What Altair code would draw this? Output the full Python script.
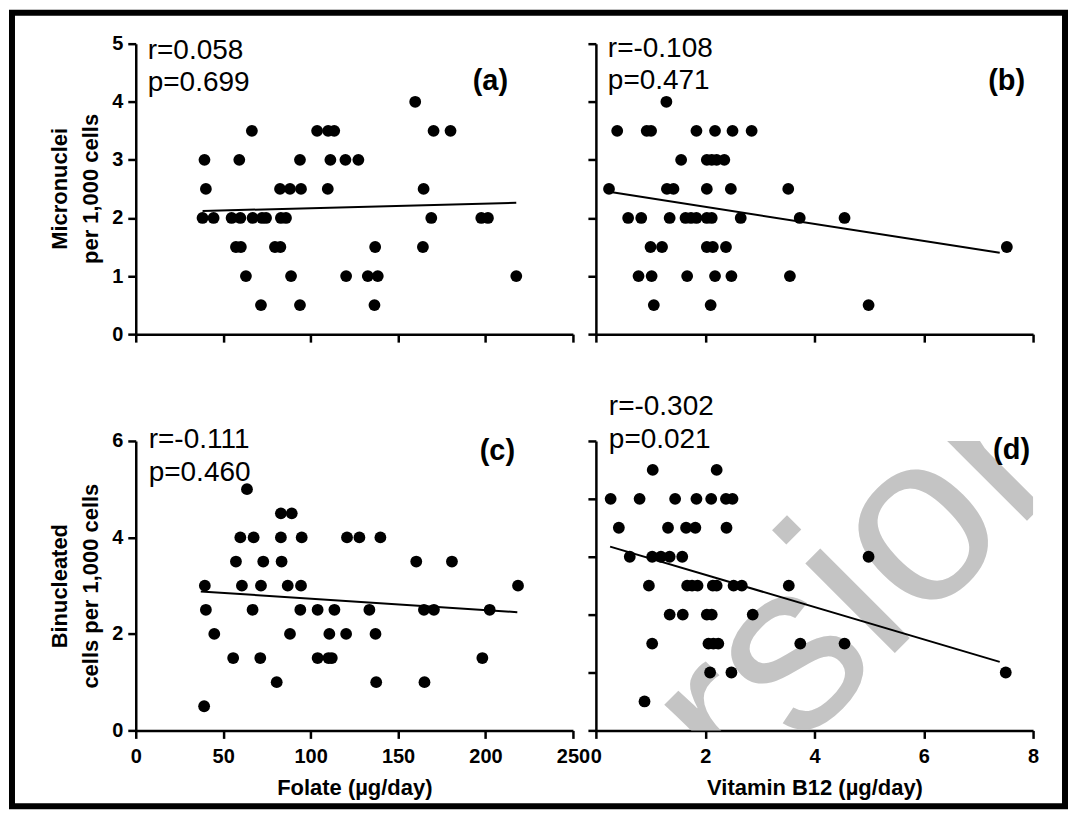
import altair as alt
import pandas as pd

# ---------------- data ----------------
# (a) Folate (ug/day) vs micronuclei per 1,000 cells
a_folate = [159.8,
            66.4, 103.7, 110.0, 113.5, 170.3, 180.0,
            39.3, 59.2, 93.9, 111.3, 119.9, 127.3,
            40.1, 82.5, 88.2, 94.5, 109.8, 164.6,
            38.2, 44.5, 54.8, 59.8, 66.8, 72.2, 74.5, 83.0, 85.9, 169.0, 197.6, 201.4,
            57.3, 60.1, 79.6, 82.7, 136.9, 164.2,
            63.0, 88.8, 120.3, 132.7, 138.4, 217.6,
            71.6, 93.9, 136.5]
a_mn = [4.0,
        3.5, 3.5, 3.5, 3.5, 3.5, 3.5,
        3.0, 3.0, 3.0, 3.0, 3.0, 3.0,
        2.5, 2.5, 2.5, 2.5, 2.5, 2.5,
        2.0, 2.0, 2.0, 2.0, 2.0, 2.0, 2.0, 2.0, 2.0, 2.0, 2.0, 2.0,
        1.5, 1.5, 1.5, 1.5, 1.5, 1.5,
        1.0, 1.0, 1.0, 1.0, 1.0, 1.0,
        0.5, 0.5, 0.5]

# (b) Vitamin B12 (ug/day) vs micronuclei per 1,000 cells
b_b12 = [1.29,
         0.39, 0.93, 1.01, 1.84, 2.18, 2.50, 2.85,
         1.56, 2.03, 2.12, 2.21, 2.35,
         0.24, 1.30, 1.42, 2.03, 2.47, 3.52,
         0.59, 0.83, 1.35, 1.64, 1.74, 1.84, 2.03, 2.12, 2.65, 3.73, 4.55,
         1.00, 1.21, 2.03, 2.14, 2.38, 7.52,
         0.78, 1.02, 1.67, 2.18, 2.48, 3.55,
         1.06, 2.10, 4.99]
b_mn = [4.0,
        3.5, 3.5, 3.5, 3.5, 3.5, 3.5, 3.5,
        3.0, 3.0, 3.0, 3.0, 3.0,
        2.5, 2.5, 2.5, 2.5, 2.5, 2.5,
        2.0, 2.0, 2.0, 2.0, 2.0, 2.0, 2.0, 2.0, 2.0, 2.0, 2.0,
        1.5, 1.5, 1.5, 1.5, 1.5, 1.5,
        1.0, 1.0, 1.0, 1.0, 1.0, 1.0,
        0.5, 0.5, 0.5]

# (c) Folate (ug/day) vs binucleated cells per 1,000 cells
c_folate = [63.6,
            83.0, 89.2,
            59.8, 67.4, 83.0, 94.9, 120.8, 127.9, 139.9,
            57.3, 72.9, 83.4, 160.4, 180.8,
            39.5, 60.7, 71.6, 86.9, 94.5, 218.6,
            40.1, 66.8, 94.1, 104.0, 113.6, 133.6, 164.8, 170.5, 202.4,
            44.9, 88.2, 110.7, 120.3, 137.1,
            55.7, 71.2, 104.0, 110.2, 112.1, 198.2,
            80.6, 137.5, 165.1,
            39.1]
c_bn = [5.0,
        4.5, 4.5,
        4.0, 4.0, 4.0, 4.0, 4.0, 4.0, 4.0,
        3.5, 3.5, 3.5, 3.5, 3.5,
        3.0, 3.0, 3.0, 3.0, 3.0, 3.0,
        2.5, 2.5, 2.5, 2.5, 2.5, 2.5, 2.5, 2.5, 2.5,
        2.0, 2.0, 2.0, 2.0, 2.0,
        1.5, 1.5, 1.5, 1.5, 1.5, 1.5,
        1.0, 1.0, 1.0,
        0.5]

# (d) Vitamin B12 (ug/day) vs binucleated cells per 1,000 cells
d_b12 = [1.04, 2.21,
         0.27, 0.80, 1.45, 1.84, 2.11, 2.38, 2.50,
         0.42, 1.32, 1.65, 1.82, 2.39,
         0.62, 1.03, 1.19, 1.35, 1.58, 4.99,
         0.97, 1.67, 1.76, 1.86, 2.14, 2.21, 2.52, 2.67, 3.53,
         1.35, 1.59, 2.03, 2.12, 2.87,
         1.03, 2.06, 2.15, 2.24, 3.74, 4.55,
         2.09, 2.48, 7.50,
         0.89]
d_bn = [5.4, 5.4,
        4.8, 4.8, 4.8, 4.8, 4.8, 4.8, 4.8,
        4.2, 4.2, 4.2, 4.2, 4.2,
        3.6, 3.6, 3.6, 3.6, 3.6, 3.6,
        3.0, 3.0, 3.0, 3.0, 3.0, 3.0, 3.0, 3.0, 3.0,
        2.4, 2.4, 2.4, 2.4, 2.4,
        1.8, 1.8, 1.8, 1.8, 1.8, 1.8,
        1.2, 1.2, 1.2,
        0.6]

# fitted regression lines (end points)
fit_a_x = [38.2, 217.6]
fit_a_y = [2.12, 2.26]
fit_b_x = [0.24, 7.39]
fit_b_y = [2.45, 1.40]
fit_c_x = [37.2, 218.2]
fit_c_y = [2.88, 2.45]
fit_d_x = [0.26, 7.39]
fit_d_y = [3.81, 1.42]

stat_a = ["r=0.058", "p=0.699"]
stat_b = ["r=-0.108", "p=0.471"]
stat_c = ["r=-0.111", "p=0.460"]
stat_d = ["r=-0.302", "p=0.021"]
tags = ["(a)", "(b)", "(c)", "(d)"]
watermark_letters = ["e", "r", "s", "i", "o", "n"]

folate_ticks = [0, 50, 100, 150, 200, 250]
b12_ticks = [0, 2, 4, 6, 8]
mn_ticks = [0, 1, 2, 3, 4, 5]
bn_ticks_c = [0, 2, 4, 6]
bn_ticks_d = [0, 1.2, 2.4, 3.6, 4.8, 6]

x_title_folate = "Folate (µg/day)"
x_title_b12 = "Vitamin B12 (µg/day)"
y_title_mn = ["Micronuclei", "per 1,000 cells"]
y_title_bn = ["Binucleated", "cells per 1,000 cells"]

FONT = "Liberation Sans, Arial, Helvetica, sans-serif"
LBL = 20
TTL = 22


def xaxis(values, title=None, labels=True):
    kw = dict(values=values, labels=labels, labelFontSize=LBL, labelFont=FONT,
              labelFontWeight="bold", labelFlush=False, labelOverlap=False,
              labelPadding=8, titleFontSize=TTL, titleFont=FONT, titleFontWeight="bold")
    if title is None:
        kw["title"] = None
    else:
        kw.update(title=title, titleY=47)
    return alt.Axis(**kw)


def yaxis(values, title=None, labels=True):
    kw = dict(values=values, labels=labels, labelFontSize=LBL, labelFont=FONT,
              labelFontWeight="bold", labelOverlap=False, labelPadding=5,
              titleFontSize=TTL, titleFont=FONT, titleFontWeight="bold")
    if title is None:
        kw["title"] = None
    else:
        kw.update(title=title, titleX=-64, titleY=145, titleBaseline="bottom",
                  titleLineHeight=31)
    return alt.Axis(**kw)


def panel(xs, ys, fx, fy, xdom, ydom, xax, yax, stat, stat_pos, tag, tag_pos, w, h, extra=None):
    xsc = alt.Scale(domain=xdom, nice=False, zero=False)
    ysc = alt.Scale(domain=ydom, nice=False, zero=False)
    pts = alt.Chart(pd.DataFrame({"x": xs, "y": ys})).mark_circle(
        size=140, color="black", opacity=1
    ).encode(
        x=alt.X("x:Q", scale=xsc, axis=xax),
        y=alt.Y("y:Q", scale=ysc, axis=yax),
    )
    fit = alt.Chart(pd.DataFrame({"x": fx, "y": fy})).mark_line(
        color="black", strokeWidth=2
    ).encode(
        x=alt.X("x:Q", scale=xsc, axis=xax),
        y=alt.Y("y:Q", scale=ysc, axis=yax),
    )
    layers = []
    if extra is not None:
        layers.extend(extra)
    layers += [fit, pts]
    for s, (sx, sy) in zip(stat, stat_pos):
        layers.append(
            alt.Chart(pd.DataFrame({"t": [s]})).mark_text(
                align="left", baseline="alphabetic", font=FONT, fontSize=28, color="black"
            ).encode(text="t:N", x=alt.value(sx), y=alt.value(sy))
        )
    layers.append(
        alt.Chart(pd.DataFrame({"t": [tag]})).mark_text(
            align="right", baseline="alphabetic", font=FONT, fontSize=29,
            fontWeight="bold", color="black"
        ).encode(text="t:N", x=alt.value(tag_pos[0]), y=alt.value(tag_pos[1]))
    )
    return alt.layer(*layers).properties(width=w, height=h)


W = 438
# outer frame around the whole figure (pixel offsets from panel (a) origin)
frame = alt.Chart(pd.DataFrame({"k": [0]})).mark_rect(
    fillOpacity=0, stroke="black", strokeWidth=6
).encode(x=alt.value(-124), x2=alt.value(931), y=alt.value(-31), y2=alt.value(764))

# grey "...ersion" watermark, one glyph per layer (pixel offsets from panel (d) origin)
WM_POS = [(52.5, 459.5), (146.8, 365.2), (203.4, 308.6), (288.2, 223.8),
          (325.8, 186.2), (420.2, 91.8)]
WM_CLIP = [True, True, False, False, False, True]
wm_layers = [
    alt.Chart(pd.DataFrame({"t": [ch]})).mark_text(
        angle=315, fontSize=240, font=FONT, color="#c4c4c4",
        align="left", baseline="alphabetic", clip=clp
    ).encode(text="t:N", x=alt.value(px), y=alt.value(py))
    for ch, (px, py), clp in zip(watermark_letters, WM_POS, WM_CLIP)
]

pa = panel(
    a_folate, a_mn, fit_a_x, fit_a_y, [0, 250], [0, 5],
    xaxis(folate_ticks, labels=False), yaxis(mn_ticks, title=y_title_mn),
    stat_a, [(12, 15), (12, 47)], tags[0], (373, 46), W, 291, extra=[frame],
)
pb = panel(
    b_b12, b_mn, fit_b_x, fit_b_y, [0, 8], [0, 5],
    xaxis(b12_ticks, labels=False), yaxis(mn_ticks, labels=False),
    stat_b, [(12, 13), (12, 45)], tags[1], (430, 46), W, 291,
)
pc = panel(
    c_folate, c_bn, fit_c_x, fit_c_y, [0, 250], [0, 6],
    xaxis(folate_ticks, title=x_title_folate), yaxis(bn_ticks_c, title=y_title_bn),
    stat_c, [(13, 7), (13, 40)], tags[2], (380, 19), W, 290,
)
pd_ = panel(
    d_b12, d_bn, fit_d_x, fit_d_y, [0, 8], [0, 6],
    xaxis(b12_ticks, title=x_title_b12), yaxis(bn_ticks_d, labels=False),
    stat_d, [(13, -26), (13, 7)], tags[3], (435, 18), W, 290, extra=wm_layers,
)

chart = alt.concat(
    pa, pb, pc, pd_, columns=2, spacing={"row": 107, "column": 23}, bounds="flush"
).properties(
    padding=0, background="white"
).configure_view(
    stroke="transparent"
).configure_axis(
    grid=False,
    domainColor="black", domainWidth=2.5,
    tickColor="black", tickWidth=2.5, tickSize=8,
    labelColor="black", titleColor="black",
)

chart.save("out.html", embed_options={"renderer": "svg", "actions": False})
